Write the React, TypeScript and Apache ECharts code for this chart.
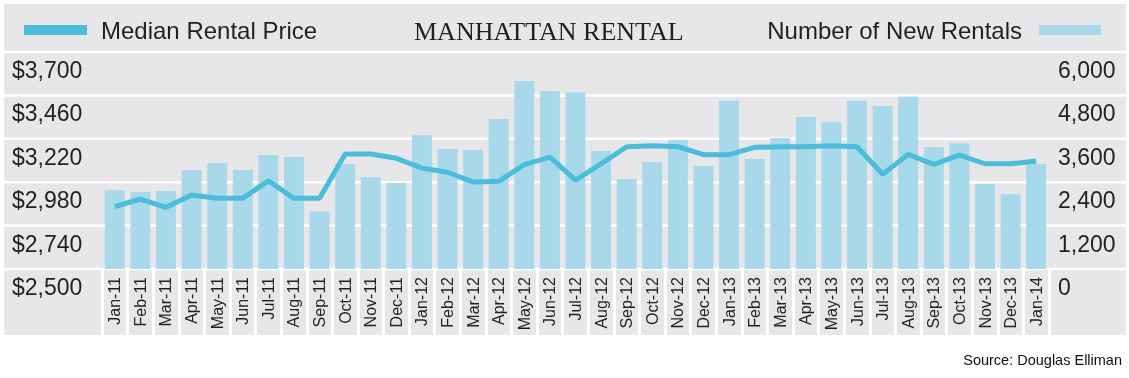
import React, { useEffect, useRef } from "react";
import * as echarts from "echarts";

const months = [
  "Jan-11", "Feb-11", "Mar-11", "Apr-11", "May-11", "Jun-11", "Jul-11", "Aug-11", "Sep-11", "Oct-11", "Nov-11", "Dec-11",
  "Jan-12", "Feb-12", "Mar-12", "Apr-12", "May-12", "Jun-12", "Jul-12", "Aug-12", "Sep-12", "Oct-12", "Nov-12", "Dec-12",
  "Jan-13", "Feb-13", "Mar-13", "Apr-13", "May-13", "Jun-13", "Jul-13", "Aug-13", "Sep-13", "Oct-13", "Nov-13", "Dec-13",
  "Jan-14",
];

const newRentals = [
  2180, 2130, 2160, 2740, 2930, 2740, 3150, 3100, 1600, 2900, 2540, 2380,
  3700, 3320, 3290, 4150, 5200, 4920, 4890, 3260, 2490, 2960, 3570, 2850,
  4650, 3040, 3620, 4200, 4070, 4650, 4510, 4760, 3370, 3480, 2350, 2070,
  2900,
];

const medianPrice = [
  2845, 2887, 2841, 2909, 2891, 2891, 2988, 2891, 2891, 3136, 3136, 3112,
  3058, 3035, 2981, 2985, 3077, 3119, 2992, 3081, 3176, 3182, 3176, 3132,
  3132, 3173, 3176, 3176, 3182, 3176, 3024, 3134, 3079, 3130, 3082, 3082,
  3097,
];

const priceTicks = [2500, 2740, 2980, 3220, 3460, 3700];
const rentalTicks = [0, 1200, 2400, 3600, 4800, 6000];

const TEXT = "#231f20";
const FONT = "'Liberation Sans', Helvetica, Arial, sans-serif";
const GRAY = "#e7e7e9";
const LINE_COLOR = "#4bbcd9";
const BAR_COLOR = "#a8d9ea";

const GRID_LEFT = 102;
const GRID_RIGHT = 80;
const GRID_TOP = 52;
const GRID_HEIGHT = 217;

export default function App() {
  const ref = useRef<HTMLDivElement>(null);

  useEffect(() => {
    if (!ref.current) return;
    const chart = echarts.init(ref.current, undefined, { renderer: "svg" });

    const step = GRID_HEIGHT / (rentalTicks.length - 1);
    const gridLines = rentalTicks.map((_, i) => ({
      type: "rect",
      z: 1,
      silent: true,
      shape: { x: 4, y: GRID_TOP + i * step - 1.25, width: 1122, height: 2.5 },
      style: { fill: "#ffffff" },
    }));

    chart.setOption({
      animation: false,
      graphic: {
        elements: [
          {
            type: "rect",
            z: 0,
            silent: true,
            shape: { x: 4, y: 4, width: 1122, height: 331 },
            style: { fill: GRAY },
          },
          ...gridLines,
        ],
      },
      title: [
        {
          text: "MANHATTAN RENTAL",
          left: 414,
          top: 18,
          padding: 0,
          textStyle: {
            fontFamily: "'Liberation Serif', 'Times New Roman', serif",
            fontSize: 26,
            fontWeight: "normal",
            color: TEXT,
          },
        },
        {
          text: "Source: Douglas Elliman",
          right: 7,
          top: 352,
          padding: 0,
          textStyle: {
            fontFamily: FONT,
            fontSize: 14.5,
            fontWeight: "normal",
            color: "#111111",
          },
        },
      ],
      legend: [
        {
          data: ["Median Rental Price"],
          left: 24,
          top: 18,
          padding: 0,
          icon: "rect",
          itemWidth: 63,
          itemHeight: 10,
          selectedMode: false,
          textStyle: { fontFamily: FONT, fontSize: 24, color: TEXT, padding: [0, 0, 0, 9] },
        },
        {
          data: ["Number of New Rentals"],
          right: 28,
          top: 18,
          padding: 0,
          align: "right",
          icon: "rect",
          itemWidth: 62,
          itemHeight: 10,
          selectedMode: false,
          textStyle: { fontFamily: FONT, fontSize: 24, color: TEXT, padding: [0, 12, 0, 0] },
        },
      ],
      grid: {
        left: GRID_LEFT,
        right: GRID_RIGHT,
        top: GRID_TOP,
        height: GRID_HEIGHT,
        containLabel: false,
      },
      xAxis: {
        type: "category",
        data: months,
        boundaryGap: true,
        z: 5,
        axisLine: { show: false },
        axisTick: {
          show: true,
          interval: 0,
          length: 66,
          lineStyle: { color: "#ffffff", width: 3 },
        },
        axisLabel: {
          rotate: 90,
          interval: 0,
          margin: 8,
          fontFamily: FONT,
          fontSize: 16,
          color: TEXT,
        },
        splitLine: { show: false },
      },
      yAxis: [
        {
          type: "value",
          min: priceTicks[0],
          max: priceTicks[priceTicks.length - 1],
          position: "left",
          z: 5,
          axisLine: { show: false },
          axisTick: { show: false },
          splitLine: { show: false },
          axisLabel: {
            customValues: priceTicks,
            showMinLabel: true,
            showMaxLabel: true,
            align: "left",
            verticalAlign: "top",
            lineHeight: 36,
            margin: 90,
            fontFamily: FONT,
            fontSize: 23,
            color: TEXT,
            formatter: (v: number) => "$" + v.toLocaleString("en-US"),
          },
        },
        {
          type: "value",
          min: rentalTicks[0],
          max: rentalTicks[rentalTicks.length - 1],
          interval: rentalTicks[1] - rentalTicks[0],
          position: "right",
          z: 5,
          axisLine: { show: false },
          axisTick: { show: false },
          splitLine: { show: false },
          axisLabel: {
            showMinLabel: true,
            showMaxLabel: true,
            align: "left",
            verticalAlign: "top",
            lineHeight: 36,
            margin: 9,
            fontFamily: FONT,
            fontSize: 23,
            color: TEXT,
            formatter: (v: number) => v.toLocaleString("en-US"),
          },
        },
      ],
      series: [
        {
          name: "Number of New Rentals",
          type: "bar",
          yAxisIndex: 1,
          data: newRentals,
          barCategoryGap: "22%",
          itemStyle: { color: BAR_COLOR },
        },
        {
          name: "Median Rental Price",
          type: "line",
          yAxisIndex: 0,
          data: medianPrice,
          symbol: "none",
          lineStyle: { color: LINE_COLOR, width: 5 },
          itemStyle: { color: LINE_COLOR },
        },
      ],
    });

    return () => chart.dispose();
  }, []);

  return (
    <div
      ref={ref}
      style={{ position: "fixed", left: 0, top: 0, width: 1129, height: 378 }}
    />
  );
}
